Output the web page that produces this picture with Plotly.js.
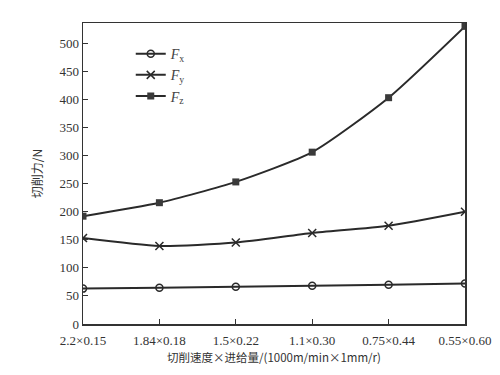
<!DOCTYPE html>
<html>
<head>
<meta charset="utf-8">
<script src="https://cdn.plot.ly/plotly-3.0.1.min.js"></script>
<style>html,body{margin:0;padding:0;background:#fff;}#chart{width:500px;height:375px;}</style>
</head>
<body>
<div id="chart"></div>
<script>
var categories = ["2.2×0.15", "1.84×0.18", "1.5×0.22", "1.1×0.30", "0.75×0.44", "0.55×0.60"];
var Fx = [63, 64.5, 66.5, 68, 70, 72];
var Fy = [153, 139, 145, 162, 175, 200];
var Fz = [192, 216, 253, 306, 403, 530];
var seriesNames = ["<i>F</i><sub>x</sub>", "<i>F</i><sub>y</sub>", "<i>F</i><sub>z</sub>"];
var yTicks = [0, 50, 100, 150, 200, 250, 300, 350, 400, 450, 500];

var idx = categories.map(function(_, i){ return i; });
var lineStyle = {color: "#2a2a2a", width: 2, shape: "spline", smoothing: 0.6};
var traces = [
  {x: idx, y: Fx, name: seriesNames[0], mode: "lines+markers", line: lineStyle,
   marker: {symbol: "circle-open", size: 7, color: "#2a2a2a", line: {width: 1.5}}},
  {x: idx, y: Fy, name: seriesNames[1], mode: "lines+markers", line: lineStyle,
   marker: {symbol: "x-thin-open", size: 8, color: "#2a2a2a", line: {width: 1.5, color: "#2a2a2a"}}},
  {x: idx, y: Fz, name: seriesNames[2], mode: "lines+markers", line: lineStyle,
   marker: {symbol: "square", size: 7, color: "#3a3a3a"}}
];
var serif = "'Liberation Serif', 'Times New Roman', serif";
var cjk = "'Noto Sans CJK SC', 'Liberation Serif', serif";
var layout = {
  width: 500, height: 375,
  margin: {l: 83, r: 35, t: 23, b: 51},
  paper_bgcolor: "#fff", plot_bgcolor: "#fff",
  font: {family: serif, color: "#333", size: 13},
  showlegend: true,
  legend: {x: 0.125, y: 0.95, xanchor: "left", yanchor: "top", bgcolor: "rgba(0,0,0,0)",
           font: {size: 14, family: serif, color: "#444"}, tracegroupgap: 6, itemwidth: 30},
  xaxis: {
    range: [0, 5], tickmode: "array", tickvals: idx, ticktext: categories,
    showline: true, mirror: true, linecolor: "#333", linewidth: 1.5,
    ticks: "inside", ticklen: 5, tickcolor: "#333", showgrid: false, zeroline: false,
    ticklabelstandoff: 4,
    tickfont: {size: 13, family: serif, color: "#333"},
    title: {text: "切削速度×进给量/(1000m/min×1mm/r)", standoff: 7,
            font: {size: 11.5, family: cjk, color: "#333"}}
  },
  yaxis: {
    range: [0, 536], tickmode: "array", tickvals: yTicks,
    showline: true, mirror: true, linecolor: "#333", linewidth: 1.5,
    ticks: "inside", ticklen: 5, tickcolor: "#333", showgrid: false, zeroline: false,
    tickfont: {size: 13, family: serif, color: "#333"},
    title: {text: "切削力/N", standoff: 14,
            font: {size: 12, family: cjk, color: "#333"}}
  }
};
Plotly.newPlot("chart", traces, layout, {displayModeBar: false, staticPlot: true});
</script>
</body>
</html>
